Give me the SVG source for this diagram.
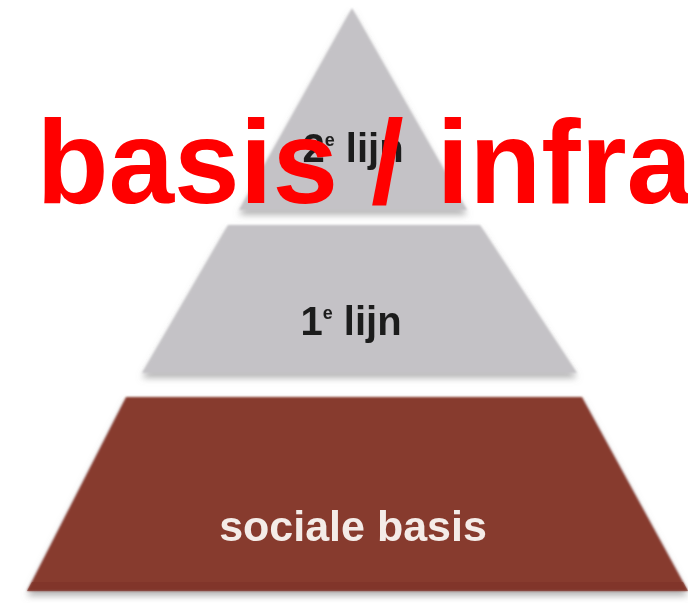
<svg xmlns="http://www.w3.org/2000/svg" width="688" height="603" viewBox="0 0 688 603">
  <defs>
    <filter id="shadow" x="-10%" y="-10%" width="120%" height="125%">
      <feGaussianBlur in="SourceGraphic" stdDeviation="0.8" result="soft"/>
      <feDropShadow in="soft" dx="0" dy="5" stdDeviation="3" flood-color="#7a7a7a" flood-opacity="0.55"/>
    </filter>
    <filter id="soft" x="-5%" y="-5%" width="110%" height="110%">
      <feGaussianBlur stdDeviation="0.6"/>
    </filter>
  </defs>
  <style>
    .gray { fill: #c4c2c6; }
    .red { fill: #873a2f; }
    .lbl { font-family: "Liberation Sans", Arial, sans-serif; font-weight: bold; text-anchor: middle; }
    .dark { fill: #1e1e1e; font-size: 40px; }
    .light { fill: #f4ece8; font-size: 43px; }
    .title { font-family: "Liberation Sans", Arial, sans-serif; font-weight: bold; font-size: 118px; fill: #ff0000; }
  </style>
  <rect width="688" height="603" fill="#ffffff"/>
  <g id="connectors"/>
  <g id="base">
    <polygon class="red" points="126,397 582,397 688,591 27,591" filter="url(#shadow)"/>
    <polygon points="32,582 683,582 688,591 27,591" fill="#7d3228" opacity="0.6"/>
    <text class="lbl light" x="353" y="541" filter="url(#soft)">sociale basis</text>
  </g>
  <g id="mid">
    <polygon class="gray" points="228,225 480,225 577,373 142,373" filter="url(#shadow)"/>
    <text class="lbl dark" x="351" y="335" filter="url(#soft)">1<tspan font-size="18" dy="-16">e</tspan><tspan dy="16"> lijn</tspan></text>
  </g>
  <g id="top">
    <polygon class="gray" points="352,8 467,210 239,210" filter="url(#shadow)"/>
    <text class="lbl dark" x="353" y="162" filter="url(#soft)">2<tspan font-size="18" dy="-16">e</tspan><tspan dy="16"> lijn</tspan></text>
  </g>
  <g id="title">
    <text class="title" x="-62" y="203">e basis / infra</text>
  </g>
</svg>
